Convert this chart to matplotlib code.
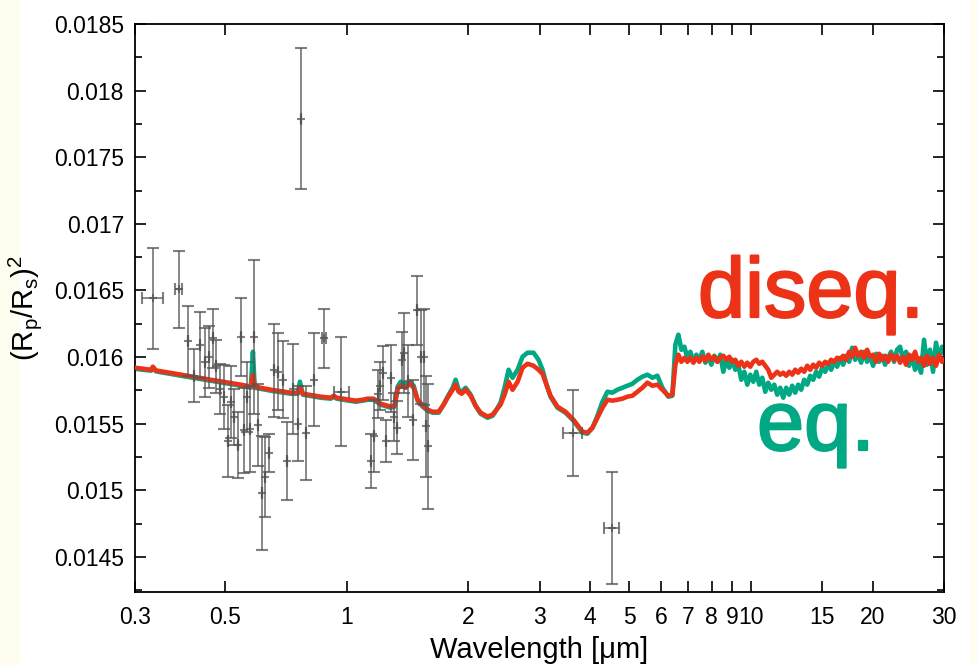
import matplotlib
matplotlib.use("Agg")
import matplotlib.pyplot as plt
import matplotlib.patheffects as pe
from matplotlib.patches import Rectangle
from matplotlib.ticker import FixedLocator, FuncFormatter, MultipleLocator, NullLocator

# model transit depth, disequilibrium chemistry
wl_diseq = [0.300, 0.329, 0.332, 0.338, 0.390, 0.462, 0.548, 0.580, 0.587, 0.593,
            0.650, 0.728, 0.758, 0.767, 0.780, 0.864, 0.914, 0.930, 0.946, 1.054,
            1.097, 1.128, 1.167, 1.215, 1.286, 1.315, 1.338, 1.361, 1.400, 1.433,
            1.466, 1.499, 1.543, 1.587, 1.633, 1.690, 1.738, 1.778, 1.830, 1.861,
            1.893, 1.926, 1.970, 2.027, 2.085, 2.145, 2.232, 2.297, 2.349, 2.403,
            2.459, 2.516, 2.573, 2.648, 2.724, 2.802, 2.900, 2.983, 3.052, 3.122,
            3.194, 3.323, 3.478, 3.639, 3.831, 3.940, 4.056, 4.173, 4.293, 4.417,
            4.543, 4.674, 4.809, 4.949, 5.091, 5.238, 5.389, 5.545, 5.704, 5.869,
            6.038, 6.246, 6.391,
            6.502, 6.614, 6.728, 6.843, 6.961, 7.081, 7.203, 7.327, 7.453, 7.581,
            7.711, 7.844, 7.979, 8.116, 8.256, 8.398, 8.542, 8.689, 8.838, 8.990,
            9.145, 9.302, 9.462, 9.625, 9.790, 9.959, 10.130, 10.304, 10.481, 10.662,
            10.845, 11.031, 11.221, 11.414, 11.610, 11.810, 12.013, 12.220, 12.430, 12.644,
            12.861, 13.082, 13.307, 13.536, 13.769, 14.006, 14.247, 14.492, 14.741, 14.995,
            15.253, 15.515, 15.782, 16.053, 16.329, 16.610, 16.896, 17.187, 17.482, 17.783,
            18.089, 18.400, 18.716, 19.038, 19.366, 19.699, 20.038, 20.383, 20.733, 21.090,
            21.453, 21.822, 22.197, 22.579, 22.967, 23.362, 23.764, 24.173, 24.589, 25.012,
            25.442, 25.879, 26.324, 26.777, 27.238, 27.706, 28.183, 28.668, 29.161, 29.663,
            30.0]
rp_diseq = [0.015920, 0.015905, 0.015928, 0.015900, 0.015868, 0.015830, 0.015793, 0.015778, 0.015868, 0.015778,
            0.015755, 0.015733, 0.015733, 0.015770, 0.015725, 0.015703, 0.015695, 0.015710, 0.015695, 0.015673,
            0.015680, 0.015688, 0.015688, 0.015650, 0.015628, 0.015635, 0.015763, 0.015785, 0.015770, 0.015800,
            0.015770, 0.015680, 0.015635, 0.015605, 0.015590, 0.015590, 0.015643, 0.015695, 0.015755, 0.015793,
            0.015740, 0.015725, 0.015755, 0.015710, 0.015635, 0.015583, 0.015553, 0.015568, 0.015605, 0.015643,
            0.015718, 0.015815, 0.015755, 0.015815, 0.015920, 0.015950, 0.015935, 0.015905, 0.015875, 0.015793,
            0.015710, 0.015628, 0.015590, 0.015530, 0.015440, 0.015433, 0.015470, 0.015545, 0.015620, 0.015680,
            0.015673, 0.015680, 0.015688, 0.015703, 0.015710, 0.015740, 0.015770, 0.015808, 0.015785, 0.015793,
            0.015755, 0.015710, 0.015718,
            0.015943, 0.016018, 0.015965, 0.015995, 0.015965, 0.015995, 0.015958, 0.015995, 0.015965, 0.016003,
            0.015973, 0.016018, 0.015980, 0.016003, 0.015965, 0.015995, 0.016010, 0.015980, 0.016003, 0.015965,
            0.015980, 0.015935, 0.015965, 0.015928, 0.015958, 0.015928, 0.015965, 0.015980, 0.015950, 0.015965,
            0.015935, 0.015905, 0.015845, 0.015868, 0.015890, 0.015868, 0.015883, 0.015860, 0.015890, 0.015868,
            0.015905, 0.015883, 0.015913, 0.015890, 0.015935, 0.015905, 0.015943, 0.015920, 0.015958, 0.015935,
            0.015965, 0.015950, 0.015980, 0.015965, 0.015995, 0.015980, 0.016010, 0.015980, 0.016040, 0.016003,
            0.016070, 0.016010, 0.016040, 0.015995, 0.016055, 0.016003, 0.016018, 0.015965, 0.016025, 0.015980,
            0.016010, 0.015965, 0.016018, 0.015980, 0.016010, 0.015958, 0.016003, 0.015943, 0.016018, 0.015980,
            0.016040, 0.015965, 0.015995, 0.015935, 0.016010, 0.015950, 0.015995, 0.015935, 0.016018, 0.015965,
            0.015980]

# model transit depth, equilibrium chemistry
wl_eq = [0.300, 0.329, 0.332, 0.338, 0.390, 0.462, 0.548, 0.580, 0.587, 0.593,
         0.650, 0.728, 0.758, 0.767, 0.780, 0.864, 0.914, 0.930, 0.946, 1.054,
         1.097, 1.128, 1.167, 1.215, 1.286, 1.315, 1.338, 1.361, 1.400, 1.433,
         1.466, 1.499, 1.543, 1.587, 1.633, 1.690, 1.738, 1.778, 1.830, 1.861,
         1.893, 1.926, 1.970, 2.027, 2.085, 2.145, 2.232, 2.297, 2.349, 2.403,
         2.459, 2.516, 2.573, 2.648, 2.724, 2.802, 2.900, 2.983, 3.052, 3.122,
         3.194, 3.323, 3.478, 3.639, 3.831, 3.940, 4.056, 4.173, 4.293, 4.417,
         4.543, 4.674, 4.809, 4.949, 5.091, 5.238, 5.389, 5.545, 5.704, 5.869,
         6.038, 6.246, 6.391,
         6.502, 6.614, 6.728, 6.843, 6.961, 7.081, 7.203, 7.327, 7.453, 7.581,
         7.711, 7.844, 7.979, 8.116, 8.256, 8.398, 8.542, 8.689, 8.838, 8.990,
         9.145, 9.302, 9.462, 9.625, 9.790, 9.959, 10.130, 10.304, 10.481, 10.662,
         10.845, 11.031, 11.221, 11.414, 11.610, 11.810, 12.013, 12.220, 12.430, 12.644,
         12.861, 13.082, 13.307, 13.536, 13.769, 14.006, 14.247, 14.492, 14.741, 14.995,
         15.253, 15.515, 15.782, 16.053, 16.329, 16.610, 16.896, 17.187, 17.482, 17.783,
         18.089, 18.400, 18.716, 19.038, 19.366, 19.699, 20.038, 20.383, 20.733, 21.090,
         21.453, 21.822, 22.197, 22.579, 22.967, 23.362, 23.764, 24.173, 24.589, 25.012,
         25.442, 25.879, 26.324, 26.777, 27.238, 27.706, 28.183, 28.668, 29.161, 29.663,
         30.0]
rp_eq = [0.015912, 0.015898, 0.015920, 0.015893, 0.015860, 0.015823, 0.015785, 0.015770, 0.016040, 0.015770,
         0.015748, 0.015725, 0.015725, 0.015815, 0.015718, 0.015695, 0.015688, 0.015703, 0.015688, 0.015665,
         0.015673, 0.015680, 0.015680, 0.015643, 0.015620, 0.015628, 0.015778, 0.015815, 0.015793, 0.015815,
         0.015785, 0.015673, 0.015628, 0.015598, 0.015583, 0.015583, 0.015643, 0.015703, 0.015770, 0.015830,
         0.015755, 0.015740, 0.015770, 0.015718, 0.015635, 0.015575, 0.015545, 0.015560, 0.015605, 0.015658,
         0.015770, 0.015905, 0.015845, 0.015905, 0.016003, 0.016033, 0.016033, 0.015980, 0.015905, 0.015793,
         0.015703, 0.015620, 0.015583, 0.015523, 0.015433, 0.015425, 0.015470, 0.015560, 0.015665, 0.015740,
         0.015733, 0.015755, 0.015770, 0.015785, 0.015800, 0.015830, 0.015853, 0.015868, 0.015845, 0.015860,
         0.015770, 0.015703, 0.015710,
         0.016093, 0.016168, 0.016055, 0.016078, 0.015995, 0.016040, 0.015965, 0.016018, 0.015980, 0.016040,
         0.015958, 0.016003, 0.015943, 0.016010, 0.015965, 0.016018, 0.015890, 0.015980, 0.015920, 0.015980,
         0.015905, 0.015943, 0.015830, 0.015890, 0.015793, 0.015868, 0.015815, 0.015890, 0.015793, 0.015845,
         0.015740, 0.015808, 0.015755, 0.015793, 0.015718, 0.015770, 0.015695, 0.015770, 0.015718, 0.015785,
         0.015733, 0.015793, 0.015755, 0.015830, 0.015793, 0.015860, 0.015830, 0.015890, 0.015853, 0.015920,
         0.015890, 0.015943, 0.015905, 0.015965, 0.015928, 0.015995, 0.015943, 0.016010, 0.015965, 0.016070,
         0.015980, 0.016018, 0.015958, 0.016040, 0.015965, 0.016010, 0.015935, 0.016025, 0.015965, 0.016010,
         0.015943, 0.015995, 0.016040, 0.015965, 0.016055, 0.016078, 0.015980, 0.016040, 0.015935, 0.016010,
         0.015905, 0.015965, 0.015883, 0.016130, 0.015943, 0.016055, 0.015890, 0.016108, 0.015980, 0.016078,
         0.016040]

# observed transit depths
obs_wl = [0.332, 0.385, 0.406, 0.419, 0.434, 0.447, 0.457, 0.467, 0.475, 0.486,
          0.498, 0.509, 0.518, 0.527, 0.539, 0.548, 0.557, 0.567, 0.577, 0.590,
          0.604, 0.618, 0.628, 0.643, 0.661, 0.677, 0.696, 0.712, 0.737, 0.758,
          0.771, 0.793, 0.830, 0.879, 0.968, 1.148, 1.167, 1.194, 1.208, 1.229,
          1.250, 1.286, 1.308, 1.331, 1.369, 1.385, 1.417, 1.457, 1.491, 1.525,
          1.552, 1.569, 1.587, 3.62, 4.52]
obs_rp = [0.01644, 0.01651, 0.01612, 0.01586, 0.01609, 0.01596, 0.01600, 0.01614, 0.01593, 0.01576,
          0.01570, 0.01537, 0.01566, 0.01555, 0.01534, 0.01615, 0.01545, 0.01570, 0.01546, 0.01615,
          0.01549, 0.01498, 0.01510, 0.01528, 0.01590, 0.01589, 0.01583, 0.01522, 0.01576, 0.01550,
          0.01779, 0.01543, 0.01583, 0.01614, 0.01574, 0.01522, 0.01541, 0.01572, 0.01578, 0.01588,
          0.01537, 0.01584, 0.01555, 0.01547, 0.01598, 0.01603, 0.01582, 0.01553, 0.01635, 0.01600,
          0.01600, 0.01548, 0.01533, 0.01543, 0.01472]
obs_err = [0.00038, 0.00029, 0.00026, 0.00020, 0.00025, 0.00026, 0.00023, 0.00022, 0.00020, 0.00019,
           0.00024, 0.00027, 0.00027, 0.00021, 0.00025, 0.00029, 0.00032, 0.00026, 0.00032, 0.00058,
           0.00031, 0.00043, 0.00030, 0.00014, 0.00035, 0.00029, 0.00029, 0.00029, 0.00034, 0.00028,
           0.00053, 0.00035, 0.00035, 0.00022, 0.00041, 0.00020, 0.00027, 0.00018, 0.00018, 0.00020,
           0.00016, 0.00025, 0.00018, 0.00020, 0.00021, 0.00030, 0.00027, 0.00030, 0.00026, 0.00035,
           0.00036, 0.00038, 0.00047, 0.00032, 0.00042]
obs_wl_lo = [0.312, 0.377, 0.406, 0.419, 0.434, 0.447, 0.457, 0.467, 0.475, 0.486,
             0.498, 0.509, 0.518, 0.527, 0.539, 0.548, 0.557, 0.567, 0.577, 0.590,
             0.604, 0.618, 0.628, 0.643, 0.661, 0.677, 0.696, 0.712, 0.737, 0.758,
             0.771, 0.793, 0.830, 0.870, 0.930, 1.148, 1.167, 1.194, 1.208, 1.229,
             1.250, 1.286, 1.308, 1.331, 1.369, 1.385, 1.417, 1.457, 1.491, 1.525,
             1.552, 1.569, 1.587, 3.42, 4.32]
obs_wl_hi = [0.352, 0.392, 0.406, 0.419, 0.434, 0.447, 0.457, 0.467, 0.475, 0.486,
             0.498, 0.509, 0.518, 0.527, 0.539, 0.548, 0.557, 0.567, 0.577, 0.590,
             0.604, 0.618, 0.628, 0.643, 0.661, 0.677, 0.696, 0.712, 0.737, 0.758,
             0.771, 0.793, 0.830, 0.888, 1.013, 1.148, 1.167, 1.194, 1.208, 1.229,
             1.250, 1.286, 1.308, 1.331, 1.369, 1.385, 1.417, 1.457, 1.491, 1.525,
             1.552, 1.569, 1.587, 3.83, 4.73]

x_ticks = [0.3, 0.5, 1, 2, 3, 4, 5, 6, 7, 8, 9, 10, 15, 20, 30]
x_tick_labels = ["0.3", "0.5", "1", "2", "3", "4", "5", "6", "7", "8", "9", "10", "15", "20", "30"]

RED = "#ec3317"
GREEN = "#00a884"

plt.rcParams["font.family"] = ["Liberation Sans", "DejaVu Sans"]
plt.rcParams["mathtext.fontset"] = "custom"
plt.rcParams["mathtext.rm"] = "Liberation Sans"
plt.rcParams["mathtext.it"] = "Liberation Sans"

fig = plt.figure(figsize=(9.77, 6.65), dpi=100, facecolor="#fefdf0")
# white panel behind the plot, cream strips at both sides
fig.patches.append(Rectangle((20 / 977, 0), 950 / 977, 1, transform=fig.transFigure,
                             facecolor="white", edgecolor="none", zorder=-10))
ax = fig.add_axes([135 / 977, 1 - 592 / 665, (944 - 135) / 977, (592 - 24) / 665])
ax.set_zorder(1)

ax.plot(wl_eq, rp_eq, color=GREEN, lw=3.3, zorder=2, solid_joinstyle="round")
ax.plot(wl_diseq, rp_diseq, color=RED, lw=3.3, zorder=3, solid_joinstyle="round")

xerr = [[w - lo for w, lo in zip(obs_wl, obs_wl_lo)],
        [hi - w for w, hi in zip(obs_wl, obs_wl_hi)]]
ax.errorbar(obs_wl, obs_rp, yerr=obs_err, xerr=xerr, fmt="+", color="#555555",
            ms=6, mew=1.5, elinewidth=1.3, capsize=4, capthick=1.3, alpha=0.75, zorder=4)

ax.set_xscale("log")
ax.set_xlim(0.3, 30)
ax.set_ylim(0.014237, 0.0185)

ax.xaxis.set_major_locator(FixedLocator(x_ticks))
ax.set_xticklabels(x_tick_labels)
ax.xaxis.set_minor_locator(NullLocator())
ax.yaxis.set_major_locator(MultipleLocator(0.0005))
ax.yaxis.set_minor_locator(MultipleLocator(0.00025))
ax.yaxis.set_major_formatter(FuncFormatter(lambda v, p: f"{v:g}"))

ax.tick_params(which="both", direction="in", top=True, right=True, width=1.2, labelsize=16.5)
ax.tick_params(which="major", length=8)
ax.tick_params(which="minor", length=5)
ax.tick_params(axis="x", pad=10)
ax.tick_params(axis="y", pad=8)
for sp in ax.spines.values():
    sp.set_linewidth(1.3)

ax.set_xlabel("Wavelength [\u03bcm]", fontsize=21, labelpad=5)
ax.set_ylabel(r"(R$_\mathregular{p}$/R$_\mathregular{s}$)$^\mathregular{2}$", fontsize=21, labelpad=7)

fig.text(698 / 977, 1 - 317 / 665, "diseq.", color=RED, fontsize=61, ha="left", va="baseline",
         path_effects=[pe.withStroke(linewidth=1.6, foreground=RED)], zorder=5)
fig.text(757 / 977, 1 - 450 / 665, "eq.", color=GREEN, fontsize=61, ha="left", va="baseline",
         path_effects=[pe.withStroke(linewidth=1.6, foreground=GREEN)], zorder=5)

fig.savefig("out.png", dpi=100, facecolor=fig.get_facecolor())
